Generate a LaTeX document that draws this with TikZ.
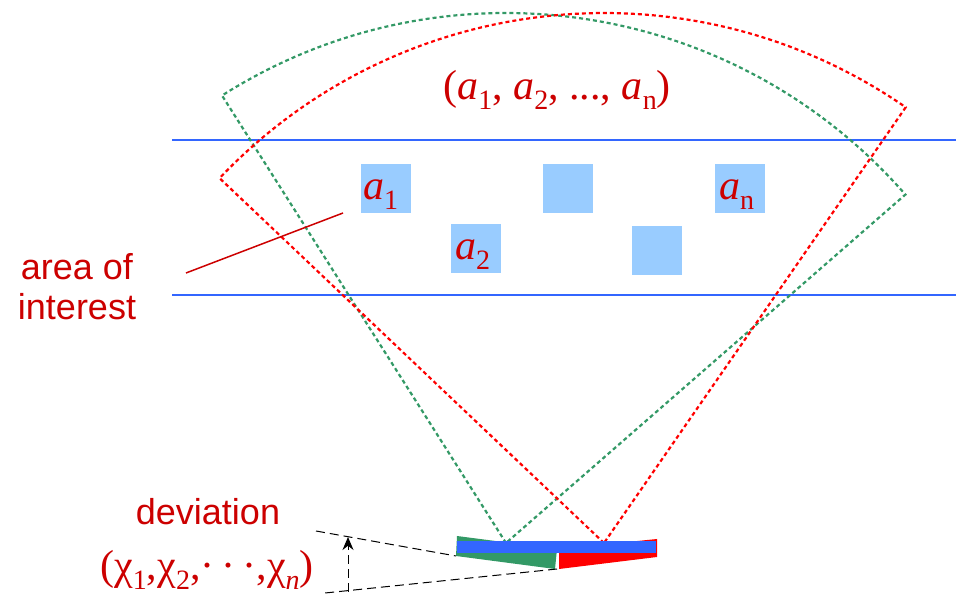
\documentclass[tikz,border=0pt]{standalone}
\usepackage{fontspec}
\setmainfont{Liberation Serif}
\setsansfont{Liberation Sans}
\usetikzlibrary{arrows.meta}
\definecolor{textred}{HTML}{CC0000}
\definecolor{beamgreen}{HTML}{339966}
\definecolor{beamred}{HTML}{FF0000}
\definecolor{lineblue}{HTML}{3366FF}
\definecolor{cellblue}{HTML}{99CCFF}
\newcommand{\subsc}[1]{\raisebox{-0.22em}{\fontsize{28}{30}\selectfont #1}}

\begin{document}
\begin{tikzpicture}[x=1pt, y=1pt,
  cell/.style={fill=cellblue, minimum width=50pt, minimum height=49pt, inner sep=0, anchor=south west},
  celltext/.style={anchor=base west, inner sep=0, text=textred, font=\fontsize{42}{46}\selectfont},
  beam/.style={line width=2.2pt, dash pattern=on 4pt off 3pt},
  guide/.style={line width=1pt, dash pattern=on 9pt off 5pt}]

  \useasboundingbox (0,0) rectangle (956,594);

  % Borders of the area of interest
  \draw[line width=1.5pt, color=lineblue] (172,454) -- (956,454);
  \draw[line width=1.5pt, color=lineblue] (172,299) -- (956,299);

  % Cells
  \node[cell] (c1) at (361,381) {};
  \node[cell] (c3) at (543,381) {};
  \node[cell] (cn) at (715,381) {};
  \node[cell] (c2) at (451,321) {};
  \node[cell] (c4) at (632,319) {};
  \node[celltext] (t1) at ([shift={(2,13)}]c1.south west) {\textit{a}\subsc{1}};
  \node[celltext] (t2) at ([shift={(4,13)}]c2.south west) {\textit{a}\subsc{2}};
  \node[celltext] (tn) at ([shift={(4,13)}]cn.south west) {\textit{a}\subsc{n}};

  % Fields of view
  \coordinate (gapex) at (506,51);
  \coordinate (rapex) at (604,51);
  \draw[beam, beamgreen] (gapex) -- ++(122.4:530) arc[start angle=122.4, end angle=41.1, radius=530] -- cycle;
  \draw[beam, beamred] (rapex) -- ++(136.5:530) arc[start angle=136.5, end angle=55.3, radius=530] -- cycle;

  % Mirror
  \fill[beamgreen] (457,58) -- (557,45) -- (555,25) -- (456,38) -- cycle;
  \fill[beamred] (559,45) -- (657,55) -- (657,37) -- (559,25) -- cycle;
  \fill[lineblue] (457,41) rectangle (656,53);

  % Deviation angle
  \coordinate (gtip) at (456,38);
  \coordinate (rtip) at (557,25);
  \coordinate (gend) at (316,63);
  \coordinate (rend) at (325,1);
  \coordinate (afoot) at (348,2);
  \coordinate (ahead) at (348,57);
  \draw[guide] (gend) -- (gtip);
  \draw[guide] (rtip) -- (rend);
  \draw[guide, -{Stealth[length=13pt, width=11pt]}] (afoot) -- (ahead);

  % Labels
  \node[font=\fontsize{42}{46}\selectfont, text=textred] (tuple) at (557,504)
    {(\textit{a}\subsc{1}, \textit{a}\subsc{2}, ..., \textit{a}\subsc{n})};
  \node[align=center, font=\sffamily\fontsize{36}{40}\selectfont, text=textred] (aoi) at (77,307)
    {area of\\interest};
  \coordinate (aoiend) at (186,321);
  \coordinate (aoitip) at (343,381);
  \draw[line width=1.5pt, color=textred] (aoiend) -- (aoitip);
  \node[font=\sffamily\fontsize{36}{40}\selectfont, text=textred] (dev) at (208,82) {deviation};
  \node[font=\fontsize{42}{46}\selectfont, text=textred] (devsym) at (207,24)
    {(χ\subsc{1},χ\subsc{2},·\,·\,·,χ\subsc{\textit{n}})};

\end{tikzpicture}
\end{document}
